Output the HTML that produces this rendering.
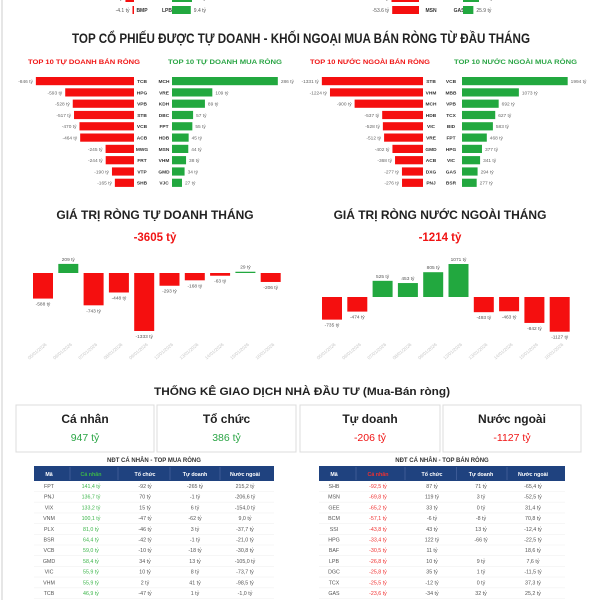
<!DOCTYPE html>
<html><head><meta charset="utf-8">
<style>
html,body{margin:0;padding:0;background:#fff;}
svg{display:block;font-family:"Liberation Sans",sans-serif;}
</style></head>
<body>
<svg id="chart" width="600" height="600" viewBox="0 0 600 600" xmlns="http://www.w3.org/2000/svg">
<rect x="0" y="0" width="600" height="600" fill="#fff"/>
<line x1="2" y1="0" x2="2" y2="600" stroke="#e6e6e6" stroke-width="2"/>
<text x="72" y="43" textLength="458" lengthAdjust="spacingAndGlyphs" font-size="13.5" font-weight="bold" fill="#222">TOP CỔ PHIẾU ĐƯỢC TỰ DOANH - KHỐI NGOẠI MUA BÁN RÒNG TỪ ĐẦU THÁNG</text>
<text x="28" y="64" textLength="112" lengthAdjust="spacingAndGlyphs" font-size="6.3" font-weight="bold" fill="#f01414">TOP 10 TỰ DOANH BÁN RÒNG</text>
<text x="168" y="64" textLength="114" lengthAdjust="spacingAndGlyphs" font-size="6.3" font-weight="bold" fill="#2aa545">TOP 10 TỰ DOANH MUA RÒNG</text>
<text x="310" y="64" textLength="120" lengthAdjust="spacingAndGlyphs" font-size="6.3" font-weight="bold" fill="#f01414">TOP 10 NƯỚC NGOÀI BÁN RÒNG</text>
<text x="454" y="64" textLength="123" lengthAdjust="spacingAndGlyphs" font-size="6.3" font-weight="bold" fill="#2aa545">TOP 10 NƯỚC NGOÀI MUA RÒNG</text>
<text x="155" y="219" text-anchor="middle" font-size="12" font-weight="bold" fill="#222">GIÁ TRỊ RÒNG TỰ DOANH THÁNG</text>
<text x="155" y="241" text-anchor="middle" font-size="11.5" font-weight="bold" fill="#f01414">-3605 tỷ</text>
<text x="440" y="219" text-anchor="middle" font-size="12" font-weight="bold" fill="#222">GIÁ TRỊ RÒNG NƯỚC NGOÀI THÁNG</text>
<text x="440" y="241" text-anchor="middle" font-size="11.5" font-weight="bold" fill="#f01414">-1214 tỷ</text>
<text x="154" y="395" textLength="296" lengthAdjust="spacingAndGlyphs" font-size="11" font-weight="bold" fill="#222">THỐNG KÊ GIAO DỊCH NHÀ ĐẦU TƯ (Mua-Bán ròng)</text>
<text x="154" y="462" text-anchor="middle" font-size="6" font-weight="bold" fill="#333">NĐT CÁ NHÂN - TOP MUA RÒNG</text>
<text x="442" y="462" text-anchor="middle" font-size="6" font-weight="bold" fill="#333">NĐT CÁ NHÂN - TOP BÁN RÒNG</text>
</svg>
<script>
const tdSellTickers=['TCB','HPG','VPB','STB','VCB','ACB','MWG','FRT','VTP','SHB'];
const tdSellVals=[-846,-593,-528,-517,-470,-464,-245,-244,-190,-165];
const tdBuyTickers=['MCH','VRE','KDH','DBC','FPT','HDB','MSN','VHM','GMD','VJC'];
const tdBuyVals=[286,109,89,57,55,45,44,38,34,27];
const nnSellTickers=['STB','VHM','MCH','HDB','VIC','VRE','GMD','ACB','DXG','PNJ'];
const nnSellVals=[-1331,-1224,-900,-537,-528,-512,-402,-368,-277,-276];
const nnBuyTickers=['VCB','MBB','VPB','TCX','BID','FPT','HPG','VIC','GAS','BSR'];
const nnBuyVals=[1994,1073,692,627,583,468,377,341,294,277];
const monthDates=['05/01/2026','06/01/2026','07/01/2026','08/01/2026','09/01/2026','12/01/2026','13/01/2026','14/01/2026','15/01/2026','16/01/2026'];
const tdMonthVals=[-588,209,-743,-448,-1333,-293,-168,-63,29,-206];
const nnMonthVals=[-735,-474,525,453,805,1071,-493,-463,-842,-1127];
const statLabels=['Cá nhân','Tổ chức','Tự doanh','Nước ngoài'];
const statVals=[947,386,-206,-1127];
const tblHeaders=['Mã','Cá nhân','Tổ chức','Tự doanh','Nước ngoài'];
const buyCodes=['FPT','PNJ','VIX','VNM','PLX','BSR','VCB','GMD','VIC','VHM','TCB'];
const buyCaNhan=['141,4 tỷ','136,7 tỷ','133,2 tỷ','100,1 tỷ','81,0 tỷ','64,4 tỷ','59,0 tỷ','58,4 tỷ','55,9 tỷ','55,9 tỷ','46,9 tỷ'];
const buyToChuc=['-92 tỷ','70 tỷ','15 tỷ','-47 tỷ','-46 tỷ','-42 tỷ','-10 tỷ','34 tỷ','10 tỷ','2 tỷ','-47 tỷ'];
const buyTuDoanh=['-265 tỷ','-1 tỷ','6 tỷ','-62 tỷ','3 tỷ','-1 tỷ','-18 tỷ','13 tỷ','8 tỷ','41 tỷ','1 tỷ'];
const buyNuocNgoai=['215,2 tỷ','-206,6 tỷ','-154,0 tỷ','9,0 tỷ','-37,7 tỷ','-21,0 tỷ','-30,8 tỷ','-105,0 tỷ','-73,7 tỷ','-98,5 tỷ','-1,0 tỷ'];
const sellCodes=['SHB','MSN','GEE','BCM','SSI','HPG','BAF','LPB','DGC','TCX','GAS'];
const sellCaNhan=['-92,5 tỷ','-69,8 tỷ','-65,2 tỷ','-57,1 tỷ','-43,8 tỷ','-33,4 tỷ','-30,5 tỷ','-26,8 tỷ','-25,8 tỷ','-25,5 tỷ','-23,6 tỷ'];
const sellToChuc=['87 tỷ','119 tỷ','33 tỷ','-6 tỷ','43 tỷ','122 tỷ','11 tỷ','10 tỷ','35 tỷ','-12 tỷ','-34 tỷ'];
const sellTuDoanh=['71 tỷ','3 tỷ','0 tỷ','-8 tỷ','13 tỷ','-66 tỷ','','9 tỷ','1 tỷ','0 tỷ','32 tỷ'];
const sellNuocNgoai=['-65,4 tỷ','-52,5 tỷ','31,4 tỷ','70,8 tỷ','-12,4 tỷ','-22,5 tỷ','18,6 tỷ','7,6 tỷ','-11,5 tỷ','37,3 tỷ','25,2 tỷ'];

const NS='http://www.w3.org/2000/svg';
const svg=document.getElementById('chart');
const RED='#f50f0f',GREEN='#22a83f';
function mk(tag,attrs){const e=document.createElementNS(NS,tag);for(const k in attrs)e.setAttribute(k,attrs[k]);svg.appendChild(e);return e;}
function tx(x,y,s,attrs){const t=mk('text',Object.assign({x:x,y:y},attrs||{}));t.textContent=s;return t;}

function partialRow(y,sv,st,bv,bt,sx0,sScale,tkS,tkB,bx0,bScale){
  const w=Math.max(1.5,Math.abs(sv)*sScale);
  const r=mk('rect',{x:sx0-w,y:y-4,width:w,height:8,fill:RED});
  
  
  const l=tx(sx0-w-3,y+2,sv+' tỷ',{'font-size':5,fill:'#555','text-anchor':'end'});
  
  
  const t1=tx(tkS,y+2,st,{'font-size':5,'font-weight':'bold',fill:'#333','text-anchor':'middle'});
  
  
  const t2=tx(tkB,y+2,bt,{'font-size':5,'font-weight':'bold',fill:'#333','text-anchor':'middle'});
  
  
  const bw=bv*bScale;
  const b=mk('rect',{x:bx0,y:y-4,width:bw,height:8,fill:GREEN});
  
  
  const bl=tx(bx0+bw+3,y+2,bv+' tỷ',{'font-size':5,fill:'#555'});
  
  
}
partialRow(-2,-5.7,'FRT',20,'VIX',134,1.5,142,167,172,1);
partialRow(10,-4.1,'BMP',9.4,'LPB',134,0.3,142,167,172,2);
partialRow(-2,-55,'VIC',16,'PLX',419,0.5,431,459,463,1);
partialRow(10,-53.6,'MSN',25.9,'GAS',419,0.5,431,459,463,0.4);

function rankSide(tickers,vals,scale,zeroX,tickX,isSell,name){
  for(let i=0;i<vals.length;i++){
    const y=77+i*11.3;
    const w=Math.abs(vals[i])*scale;
    const x=isSell?zeroX-w:zeroX;
    const r=mk('rect',{x:x,y:y,width:w,height:8.2,fill:isSell?RED:GREEN});
    
    
    const lx=isSell?x-3:x+w+3;
    const l=tx(lx,y+6,vals[i]+' tỷ',{'font-size':4.8,fill:'#666','text-anchor':isSell?'end':'start'});
    
    
    const t=tx(tickX,y+6,tickers[i],{'font-size':4.8,'font-weight':'bold',fill:'#333','text-anchor':'middle'});
    
    
  }
}
rankSide(tdSellTickers,tdSellVals,0.116,134,142,true,'td-sell');
rankSide(tdBuyTickers,tdBuyVals,0.37,172,164,false,'td-buy');
rankSide(nnSellTickers,nnSellVals,0.076,423,431,true,'nn-sell');
rankSide(nnBuyTickers,nnBuyVals,0.053,462,451,false,'nn-buy');

function monthChart(vals,x0,step,zeroY,scale,name){
  for(let i=0;i<vals.length;i++){
    const cx=x0+i*step;
    const v=vals[i];
    const h=Math.max(1,Math.abs(v)*scale);
    const y=v>=0?zeroY-h:zeroY;
    const r=mk('rect',{x:cx-10,y:y,width:20,height:h,fill:v>=0?GREEN:RED});
    
    
    const ly=v>=0?y-3:y+h+7;
    const l=tx(cx,ly,v+' tỷ',{'font-size':4.8,fill:'#555','text-anchor':'middle'});
    
    
    const d=tx(cx+4,345,monthDates[i],{'font-size':4.6,fill:'#c8c8c8','text-anchor':'end',transform:'rotate(-40 '+(cx+4)+' 345)'});
    
    
  }
}
monthChart(tdMonthVals,43,25.3,273,0.0435,'td-month');
monthChart(nnMonthVals,332,25.3,297,0.0308,'nn-month');

const boxX=[16,157,300,443],boxW=[138,139,140,138];
for(let i=0;i<4;i++){
  const b=mk('rect',{x:boxX[i],y:405,width:boxW[i],height:47,fill:'#fff',stroke:'#dcdcdc','stroke-width':1});
  
  
  const cx=boxX[i]+boxW[i]/2;
  const l=tx(cx,423,statLabels[i],{'font-size':12,'font-weight':'bold',fill:'#222','text-anchor':'middle'});
  
  
  const v=tx(cx,441,statVals[i]+' tỷ',{'font-size':10.5,fill:statVals[i]>=0?'#2aa545':'#f01414','text-anchor':'middle'});
  
  
}

function table(x0,x1,colX,cols,caColor,name){
  const h=mk('rect',{x:x0,y:466,width:x1-x0,height:15,fill:'#1f427f'});
  
  
  const seps=[(colX[0]+colX[1])/2,(colX[1]+colX[2])/2,(colX[2]+colX[3])/2,(colX[3]+colX[4])/2];
  for(const s of seps){
    const ln=mk('line',{x1:s,y1:467,x2:s,y2:480,stroke:'#4a66a0','stroke-width':0.7});
    
    
  }
  for(let c=0;c<5;c++){
    const t=tx(colX[c],476,tblHeaders[c],{'font-size':5.3,'font-weight':'bold',fill:c===1?caColor:'#fff','text-anchor':'middle'});
    
    
  }
  for(let r=0;r<cols[0].length;r++){
    const y=488+r*10.7;
    const ln=mk('line',{x1:x0,y1:y+3.5,x2:x1,y2:y+3.5,stroke:'#f0f0f0','stroke-width':0.6});
    
    
    for(let c=0;c<5;c++){
      const t=tx(colX[c],y,cols[c][r],{'font-size':5.3,fill:c===1?caColor:'#555','text-anchor':'middle'});
      
      
    }
  }
}
table(34,274,[49,91,145,195,245],[buyCodes,buyCaNhan,buyToChuc,buyTuDoanh,buyNuocNgoai],'#3cb54a','buy-table');
table(319,565,[334,378,432,481,533],[sellCodes,sellCaNhan,sellToChuc,sellTuDoanh,sellNuocNgoai],'#f03030','sell-table');
</script>
</body></html>
